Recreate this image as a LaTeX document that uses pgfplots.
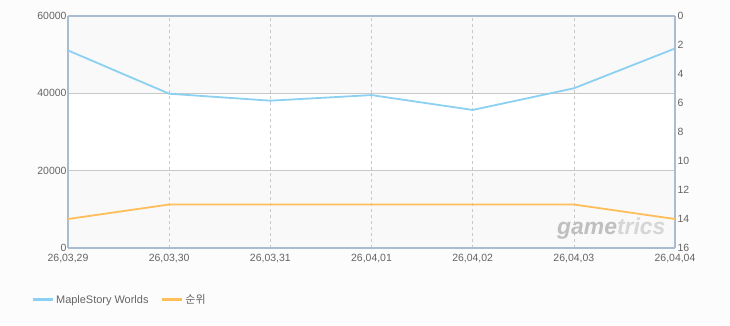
\documentclass[border=0pt]{standalone}
\usepackage{pgfplots}
\pgfplotsset{compat=1.18}
\usepackage{fontspec}
\setmainfont{Liberation Sans}
\newfontfamily\kr{Noto Sans CJK KR}
\definecolor{bg}{RGB}{252,252,252}
\definecolor{band}{RGB}{249,249,249}
\definecolor{frame}{RGB}{170,188,208}
\definecolor{tick}{RGB}{100,100,100}
\definecolor{blueL}{RGB}{140,208,242}
\definecolor{orangeL}{RGB}{255,190,90}
\definecolor{gridc}{RGB}{200,200,200}
\begin{document}
\begin{tikzpicture}[x=1bp,y=1bp]
\fill[bg] (0,0) rectangle (730,325);
\begin{axis}[
  at={(68bp,77bp)}, anchor=south west,
  scale only axis, width=607bp, height=232bp,
  xmin=0, xmax=6, ymin=0, ymax=60000,
  hide axis,
]
\addplot[draw=none, fill=band] coordinates {(0,40000) (6,40000) (6,60000) (0,60000)} \closedcycle;
\addplot[draw=none, fill=white] coordinates {(0,20000) (6,20000) (6,40000) (0,40000)} \closedcycle;
\addplot[draw=none, fill=band] coordinates {(0,0) (6,0) (6,20000) (0,20000)} \closedcycle;
\end{axis}
\begin{axis}[
  at={(68bp,77bp)}, anchor=south west,
  scale only axis, width=607bp, height=232bp,
  xmin=0, xmax=6, ymin=0, ymax=60000,
  xtick={0,...,6},
  xticklabels={{26,03,29},{26,03,30},{26,03,31},{26,04,01},{26,04,02},{26,04,03},{26,04,04}},
  ytick={0,20000,40000,60000},
  scaled y ticks=false,
  /pgf/number format/1000 sep={},
  /pgf/number format/assume math mode=true,
  tick label style={font=\fontsize{10.5}{12}\selectfont, text=tick},
  yticklabel style={xshift=2bp},
  xticklabel style={yshift=-3bp},
  major tick length=0pt,
  axis y line*=left,
  axis x line*=bottom,
  axis line style={frame, line width=1.6bp},
  xmajorgrids, ymajorgrids,
  x grid style={gridc, dashed, line width=0.6bp},
  y grid style={gridc, line width=0.8bp},
  legend style={at={(rel axis cs:-0.066,-0.224)}, anchor=west, draw=none, fill=none,
    font=\fontsize{11}{13}\selectfont\color{tick}, legend columns=2,
    /tikz/every even column/.append style={column sep=10bp}},
  legend cell align=left,
  legend image post style={line width=3bp},
  legend image code/.code={\draw[#1] (0bp,0bp) -- (20bp,0bp);},
]
\addplot[blueL, line width=1.8bp] coordinates {
(0,51100) (1,39900) (2,38100) (3,39550) (4,35700) (5,41300) (6,51600)};
\addlegendentry{MapleStory Worlds}
\addlegendimage{orangeL, line width=1.8bp}
\addlegendentry{\kr 순위}
\node[anchor=center, font=\fontsize{23}{23}\selectfont\bfseries\itshape, text=black!25] at (axis cs:5.37,5000) {game\textcolor{black!16}{trics}};
\end{axis}
\begin{axis}[
  at={(68bp,77bp)}, anchor=south west,
  scale only axis, width=607bp, height=232bp,
  xmin=0, xmax=6, ymin=0, ymax=16,
  y dir=reverse,
  axis x line=none,
  axis y line*=right,
  ytick={0,2,...,16},
  /pgf/number format/assume math mode=true,
  tick label style={font=\fontsize{10.5}{12}\selectfont, text=tick},
  yticklabel style={xshift=-1bp},
  major tick length=0pt,
  axis line style={frame, line width=1.2bp},
]
\addplot[orangeL, line width=1.8bp] coordinates {
(0,14) (1,13) (2,13) (3,13) (4,13) (5,13) (6,14)};
\end{axis}
\draw[frame, line width=1.2bp] (68,309) -- (675,309);
\end{tikzpicture}
\end{document}
